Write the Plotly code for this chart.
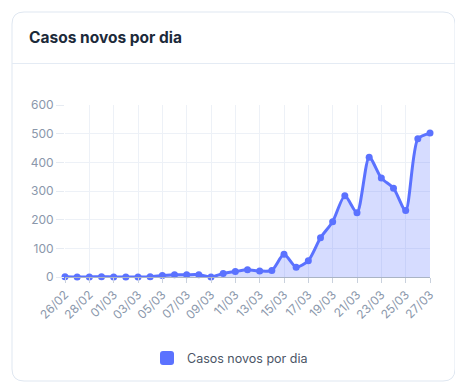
import plotly.graph_objects as go

dates = ["26/02", "27/02", "28/02", "29/02", "01/03", "02/03", "03/03", "04/03",
         "05/03", "06/03", "07/03", "08/03", "09/03", "10/03", "11/03", "12/03",
         "13/03", "14/03", "15/03", "16/03", "17/03", "18/03", "19/03", "20/03",
         "21/03", "22/03", "23/03", "24/03", "25/03", "26/03", "27/03"]
casos = [1, 0, 0, 1, 0, 0, 0, 1, 5, 8, 8, 8, 0, 12, 19, 25,
         21, 23, 79, 34, 57, 137, 193, 283, 224, 418, 345, 310, 232, 482, 502]
y_ticks = [0, 100, 200, 300, 400, 500, 600]
series_name = "Casos novos por dia"
title_text = "Casos novos por dia"

# page body has an 8px margin; figure is sized to fill the rest of the window
OFF = 8
WIN_W, WIN_H = 463, 382
W, H = WIN_W - OFF, WIN_H - OFF
ML, MR, MT, MB = 65 - OFF, 33, 105 - OFF, 105
PW, PH = W - ML - MR, H - MT - MB

def px(x):  # window pixel -> paper x
    return (x - OFF - ML) / PW

def py(y):  # window pixel -> paper y
    return (WIN_H - MB - y) / PH

def rounded_rect(x0, y0, x1, y1, r):
    pts = [
        f"M {px(x0 + r)},{py(y0)}",
        f"L {px(x1 - r)},{py(y0)}",
        f"Q {px(x1)},{py(y0)} {px(x1)},{py(y0 + r)}",
        f"L {px(x1)},{py(y1 - r)}",
        f"Q {px(x1)},{py(y1)} {px(x1 - r)},{py(y1)}",
        f"L {px(x0 + r)},{py(y1)}",
        f"Q {px(x0)},{py(y1)} {px(x0)},{py(y1 - r)}",
        f"L {px(x0)},{py(y0 + r)}",
        f"Q {px(x0)},{py(y0)} {px(x0 + r)},{py(y0)}",
        "Z",
    ]
    return " ".join(pts)

BLUE = "#5b72ff"
FONT = "Inter"

fig = go.Figure()
fig.add_trace(go.Scatter(
    x=dates, y=casos, name=series_name, mode="lines+markers",
    line=dict(color=BLUE, width=3, shape="spline", smoothing=0.7),
    marker=dict(color=BLUE, size=7),
    fill="tozeroy", fillcolor="rgba(91,114,255,0.25)",
    cliponaxis=False, showlegend=False,
))

shapes = [
    dict(type="path", xref="paper", yref="paper",
         path=rounded_rect(12, 12, 455, 381, 12),
         line=dict(color="#dfe7f1", width=1), fillcolor="rgba(0,0,0,0)", layer="below"),
    dict(type="line", xref="paper", yref="paper",
         x0=px(12), x1=px(455), y0=py(63.5), y1=py(63.5),
         line=dict(color="#e4ebf4", width=1), layer="below"),
    dict(type="path", xref="paper", yref="paper",
         path=rounded_rect(160, 351, 174, 365, 3),
         line=dict(color=BLUE, width=0), fillcolor=BLUE),
]

fig.update_layout(
    width=W, height=H,
    margin=dict(l=ML, r=MR, t=MT, b=MB),
    paper_bgcolor="white", plot_bgcolor="white",
    font=dict(family=FONT, color="#8a97ab"),
    title=dict(text=title_text, xref="container", yref="container",
               x=(29 - OFF) / W, xanchor="left", y=1 - (38 - OFF) / H, yanchor="middle",
               font=dict(family=FONT, size=15.5, color="#1c2a3a", weight="bold")),
    shapes=shapes,
    annotations=[dict(text=series_name, xref="paper", yref="paper",
                      x=px(185), y=py(358), xanchor="left", yanchor="middle",
                      showarrow=False,
                      font=dict(family=FONT, size=12.5, color="#4b5566"))],
    xaxis=dict(type="category", range=[0, len(dates) - 1],
               tickvals=dates[::2], ticktext=dates[::2], tickangle=-45,
               showgrid=True, gridcolor="#edf1f7", gridwidth=1,
               showline=True, linecolor="#aab4c5", linewidth=1,
               ticks="outside", ticklen=5, tickcolor="#c9d1dd",
               tickfont=dict(size=12, color="#8a97ab"), zeroline=False),
    yaxis=dict(range=[0, 600], tickvals=y_ticks,
               showgrid=True, gridcolor="#edf1f7", gridwidth=1,
               ticks="outside", ticklen=8, tickcolor="#e6ebf2",
               tickfont=dict(size=12, color="#8a97ab"), zeroline=False,
               showline=False),
)

fig.write_html("out.html")
